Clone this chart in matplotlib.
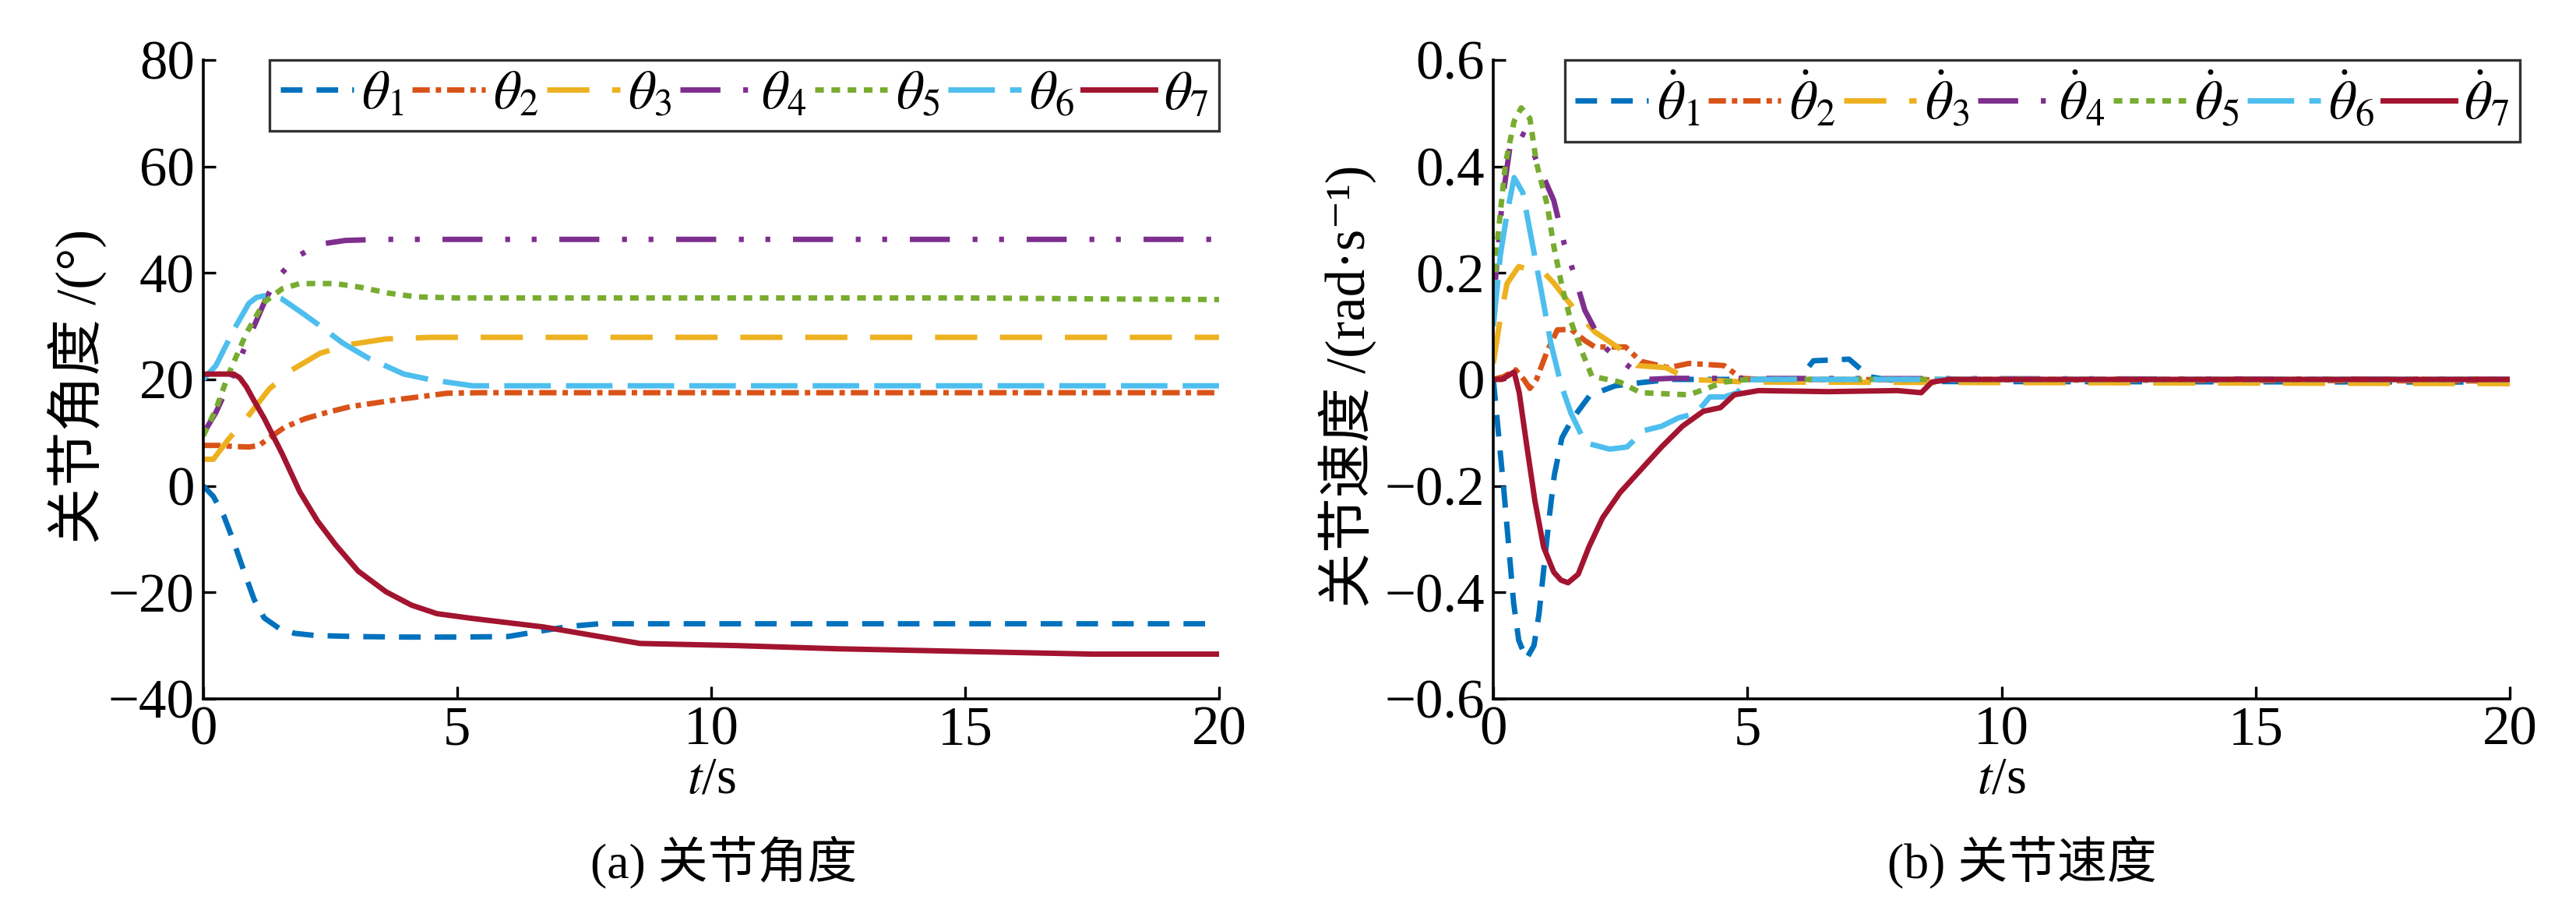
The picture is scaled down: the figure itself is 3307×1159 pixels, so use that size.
import numpy as np
import matplotlib
matplotlib.use("Agg")
from matplotlib import pyplot as plt
from matplotlib.ticker import FuncFormatter

plt.rcParams['font.family'] = ['Liberation Serif', 'DejaVu Serif', 'Noto Sans CJK SC']
plt.rcParams['mathtext.fontset'] = 'stix'
plt.rcParams['lines.scale_dashes'] = False
plt.rcParams['axes.unicode_minus'] = True

# ---- data: (a) joint angles, degrees ----
t1 = [0, 0.2, 0.4, 0.6, 0.8, 1.0, 1.2, 1.5, 1.8, 2.2, 3, 4, 5, 6, 6.5, 7.2, 7.8, 10, 15, 20]
a1 = [0, -2, -5.5, -10.5, -16, -21.3, -24.8, -26.8, -27.7, -28.1, -28.3, -28.4, -28.4, -28.3, -27.5, -26.4, -25.9, -25.9, -25.9, -25.9]
t2 = [0, 0.3, 0.6, 0.9, 1.1, 1.3, 1.6, 2.0, 2.4, 2.9, 3.4, 3.9, 4.4, 4.8, 5.5, 10, 15, 20]
a2 = [7.6, 7.6, 7.4, 7.3, 7.6, 9.0, 11.0, 12.6, 13.7, 14.9, 15.6, 16.3, 16.9, 17.4, 17.5, 17.5, 17.5, 17.5]
t3 = [0, 0.2, 0.5, 0.85, 1.3, 1.75, 2.3, 2.85, 3.6, 4.5, 10, 20]
a3 = [5, 5, 8.8, 12.7, 18.2, 21.8, 24.9, 26.5, 27.6, 27.9, 27.9, 27.9]
t4 = [0, 0.25, 0.5, 0.75, 1.0, 1.25, 1.5, 1.85, 2.3, 2.8, 3.5, 20]
a4 = [9.8, 13.8, 19, 24.5, 30, 35.5, 39.5, 43.1, 45.4, 46.1, 46.3, 46.3]
t5 = [0, 0.25, 0.5, 0.85, 1.2, 1.55, 1.9, 2.6, 3.1, 3.65, 4.2, 5, 10, 15, 18, 20]
a5 = [9.4, 14.4, 21, 28.7, 34.5, 37, 38, 38, 37.3, 36.2, 35.5, 35.3, 35.3, 35.3, 35.1, 35.0]
t6 = [0, 0.25, 0.6, 0.9, 1.05, 1.2, 1.35, 1.55, 1.9, 2.25, 2.75, 3.25, 3.95, 4.5, 5.3, 6, 20]
a6 = [20, 22.6, 29.3, 34.3, 35.4, 35.7, 35.6, 35.1, 32.8, 30.4, 26.8, 24, 21, 19.9, 18.8, 18.8, 18.8]
t7 = [0, 0.3, 0.6, 0.72, 0.85, 1.0, 1.2, 1.55, 1.9, 2.25, 2.6, 3.05, 3.6, 4.1, 4.6, 5.3, 6.7, 8.6, 10.5, 12.5, 15, 17.5, 20]
a7 = [21, 21, 21, 20.3, 18.6, 16.0, 12.7, 6.1, -1.1, -6.6, -11, -16, -19.9, -22.4, -24, -24.9, -26.5, -29.6, -30.0, -30.6, -31.1, -31.6, -31.6]

# ---- data: (b) joint velocities, rad/s ----
u1 = [0, 0.1, 0.2, 0.3, 0.4, 0.5, 0.65, 0.8, 0.9, 1.0, 1.1, 1.2, 1.35, 1.55, 1.9, 2.4, 3.0, 3.5, 4.5, 6.0, 6.3, 7.0, 7.4, 8, 20]
v1 = [0, -0.1, -0.2, -0.31, -0.42, -0.49, -0.525, -0.5, -0.44, -0.35, -0.26, -0.18, -0.11, -0.075, -0.03, -0.012, -0.005, 0, 0, 0, 0.035, 0.038, 0.005, -0.004, -0.005]
u2 = [0, 0.2, 0.44, 0.6, 0.72, 0.85, 1.06, 1.26, 1.53, 1.8, 2.0, 2.6, 2.9, 3.45, 3.85, 4.54, 4.88, 5.3, 20]
v2 = [0, 0.005, 0.018, 0.0, -0.017, 0.0, 0.053, 0.093, 0.094, 0.073, 0.061, 0.061, 0.034, 0.022, 0.03, 0.026, 0.002, 0, -0.003]
u3 = [0, 0.14, 0.27, 0.5, 0.75, 1.0, 1.2, 1.4, 1.74, 2.0, 2.5, 2.83, 3.4, 3.85, 5, 20]
v3 = [0.03, 0.116, 0.18, 0.212, 0.205, 0.2, 0.18, 0.155, 0.116, 0.089, 0.057, 0.026, 0.022, 0, -0.005, -0.008]
u4 = [0, 0.17, 0.34, 0.48, 0.65, 0.92, 1.19, 1.4, 1.6, 1.8, 2.18, 2.42, 2.7, 3.04, 3.5, 20]
v4 = [0.14, 0.33, 0.445, 0.465, 0.457, 0.395, 0.336, 0.253, 0.195, 0.13, 0.061, 0.042, 0.022, 0, 0.002, 0]
u5 = [0, 0.07, 0.24, 0.41, 0.55, 0.72, 0.85, 1.06, 1.19, 1.36, 1.53, 1.74, 1.94, 2.49, 2.9, 3.85, 4.2, 4.54, 5, 20]
v5 = [0.11, 0.25, 0.406, 0.485, 0.51, 0.49, 0.406, 0.328, 0.25, 0.171, 0.108, 0.053, 0.006, -0.005, -0.025, -0.029, -0.017, -0.005, 0, 0]
u6 = [0, 0.14, 0.27, 0.41, 0.58, 0.78, 0.95, 1.13, 1.33, 1.53, 1.81, 2.29, 2.63, 2.97, 3.31, 3.65, 3.99, 4.26, 4.54, 4.8, 5.0, 20]
v6 = [0.1, 0.234, 0.312, 0.379, 0.351, 0.249, 0.163, 0.069, -0.009, -0.064, -0.119, -0.131, -0.127, -0.096, -0.088, -0.072, -0.064, -0.033, -0.033, -0.025, 0, 0]
u7 = [0, 0.17, 0.41, 0.51, 0.65, 0.82, 0.99, 1.19, 1.33, 1.47, 1.67, 1.88, 2.15, 2.49, 2.9, 3.31, 3.72, 4.13, 4.47, 4.74, 5.22, 6.58, 7.95, 8.42, 8.63, 9, 20]
v7 = [0, 0, 0.014, -0.025, -0.119, -0.229, -0.315, -0.362, -0.377, -0.382, -0.366, -0.315, -0.26, -0.213, -0.17, -0.127, -0.088, -0.06, -0.053, -0.029, -0.021, -0.023, -0.021, -0.025, -0.005, 0, 0]

colors = ['#0072BD', '#D95319', '#EDB120', '#7E2F8E', '#77AC30', '#4DBEEE', '#A2142F']
styles = [(0, (20, 13)), (0, (16, 5.5, 5, 5.5)), (0, (39, 21)),
          (0, (37, 21, 4.5, 20, 4.5, 21)), (0, (8, 7)), (0, (43, 14)), '-']

fig = plt.figure(figsize=(33.07, 11.59), dpi=100)
ax1 = fig.add_axes([0.0789, 0.2261, 0.3943, 0.7075])
ax2 = fig.add_axes([0.5797, 0.2261, 0.3946, 0.7075])

angle_t = [t1, t2, t3, t4, t5, t6, t7]
angle_v = [a1, a2, a3, a4, a5, a6, a7]
vel_t = [u1, u2, u3, u4, u5, u6, u7]
vel_v = [v1, v2, v3, v4, v5, v6, v7]

for i in range(7):
    ax1.plot(angle_t[i], angle_v[i], color=colors[i], linestyle=styles[i], lw=5,
             label=r'$\theta_{%d}$' % (i + 1))
    ax2.plot(vel_t[i], vel_v[i], color=colors[i], linestyle=styles[i], lw=5,
             label=r'$\dot{\theta}_{%d}$' % (i + 1))


def fmt(v, pos):
    return ('%g' % round(v, 3)).replace('-', '\u2212')


for ax, anchor in ((ax1, 1.0), (ax2, 1.01)):
    ax.set_xlim(0, 20)
    ax.set_xticks([0, 5, 10, 15, 20])
    ax.spines['top'].set_visible(False)
    ax.spines['right'].set_visible(False)
    ax.spines['left'].set_linewidth(2.6)
    ax.spines['bottom'].set_linewidth(2.6)
    ax.tick_params(direction='in', length=11.5, width=2.4, labelsize=51)
    ax.tick_params(axis='x', pad=6)
    ax.tick_params(axis='y', pad=8)
    ax.yaxis.set_major_formatter(FuncFormatter(fmt))
    ax.set_xlabel(r'$t$/s', fontsize=48, labelpad=0)
    leg = ax.legend(loc='upper right', bbox_to_anchor=(anchor, 1.0), ncol=7, fontsize=50,
                    handlelength=1.35, handletextpad=0.15, columnspacing=0.15,
                    borderpad=0.2, borderaxespad=0, frameon=True, fancybox=False)
    leg.get_frame().set_edgecolor('black')
    leg.get_frame().set_linewidth(2.4)

ax1.set_ylim(-40, 80)
ax1.set_yticks([-40, -20, 0, 20, 40, 60, 80])
ax2.set_ylim(-0.6, 0.6)
ax2.set_yticks([-0.6, -0.4, -0.2, 0, 0.2, 0.4, 0.6])

fig.text(0.0302, 0.572, '关节角度 /(°)', rotation=90, ha='center', va='center', fontsize=52)
fig.text(0.523, 0.572, '关节速度 /(rad·s⁻¹)', rotation=90, ha='center', va='center', fontsize=51)
fig.text(0.281, 0.045, '(a) 关节角度', ha='center', va='center', fontsize=46)
fig.text(0.785, 0.045, '(b) 关节速度', ha='center', va='center', fontsize=46)

fig.savefig('out.png', dpi=100)
